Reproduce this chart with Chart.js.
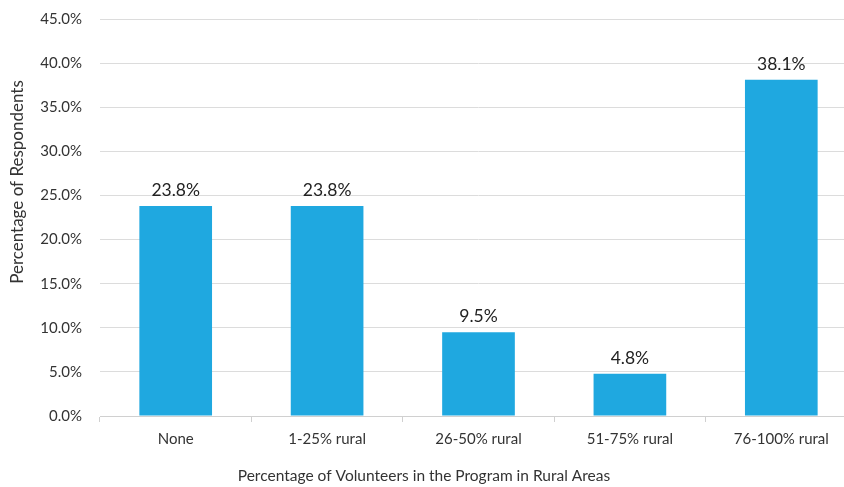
<!DOCTYPE html>
<html>
<head>
<meta charset="utf-8">
<script src="https://cdn.jsdelivr.net/npm/chart.js@4/dist/chart.umd.min.js"></script>
<style>
  html, body { margin: 0; padding: 0; background: #fff; overflow: hidden; }
  #wrap { position: relative; top: -8px; width: 860px; height: 495px; }
</style>
</head>
<body>
<div id="wrap"><canvas id="c" width="860" height="495"></canvas></div>
<script>
const categories = ['None', '1-25% rural', '26-50% rural', '51-75% rural', '76-100% rural'];
const respondentShares = [23.8, 23.8, 9.5, 4.8, 38.1];
const yTickValues = [0, 5, 10, 15, 20, 25, 30, 35, 40, 45];
const xTitle = 'Percentage of Volunteers in the Program in Rural Areas';
const yTitle = 'Percentage of Respondents';

const FONT = 'Lato, "Open Sans", sans-serif';

// Writes each bar's value just above its top edge, plus both axis captions
const valueLabels = {
  id: 'valueLabels',
  afterDatasetsDraw(chart) {
    const ctx = chart.ctx;
    const meta = chart.getDatasetMeta(0);
    ctx.save();
    ctx.font = '17.5px ' + FONT;
    ctx.fillStyle = '#222';
    ctx.textAlign = 'center';
    ctx.textBaseline = 'bottom';
    meta.data.forEach((bar, i) => {
      ctx.fillText(respondentShares[i].toFixed(1) + '%', bar.x, bar.y - 7);
    });
    ctx.fillStyle = '#333';
    ctx.textBaseline = 'middle';
    ctx.font = '15.5px ' + FONT;
    ctx.fillText(xTitle, 424, 484);
    ctx.font = '17px ' + FONT;
    ctx.translate(18, 190);
    ctx.rotate(-Math.PI / 2);
    ctx.fillText(yTitle, 0, 0);
    ctx.restore();
  }
};

new Chart(document.getElementById('c'), {
  type: 'bar',
  data: {
    labels: categories,
    datasets: [{
      data: respondentShares,
      backgroundColor: '#1FA8E0',
      borderWidth: 0,
      barPercentage: 0.48,
      categoryPercentage: 1
    }]
  },
  options: {
    responsive: false,
    animation: false,
    events: [],
    layout: { padding: { top: 2, right: 3, bottom: 2, left: 0 } },
    plugins: { legend: { display: false }, tooltip: { enabled: false } },
    scales: {
      x: {
        grid: { display: true, drawOnChartArea: false, drawTicks: true, tickLength: 6, color: '#d0d0d0', offset: true },
        border: { color: '#d0d0d0' },
        ticks: { font: { family: FONT, size: 15 }, color: '#333', padding: 8 },
        afterFit(s) { s.height = 69; }
      },
      y: {
        min: 0, max: 45,
        afterBuildTicks(s) { s.ticks = yTickValues.map(v => ({ value: v })); },
        grid: { color: '#dcdcdc', drawTicks: false },
        border: { display: false },
        ticks: { font: { family: FONT, size: 15 }, color: '#333', padding: 18,
                 callback: v => v.toFixed(1) + '%' },
        afterFit(s) { s.width = 100; }
      }
    }
  },
  plugins: [valueLabels]
});
</script>
</body>
</html>
